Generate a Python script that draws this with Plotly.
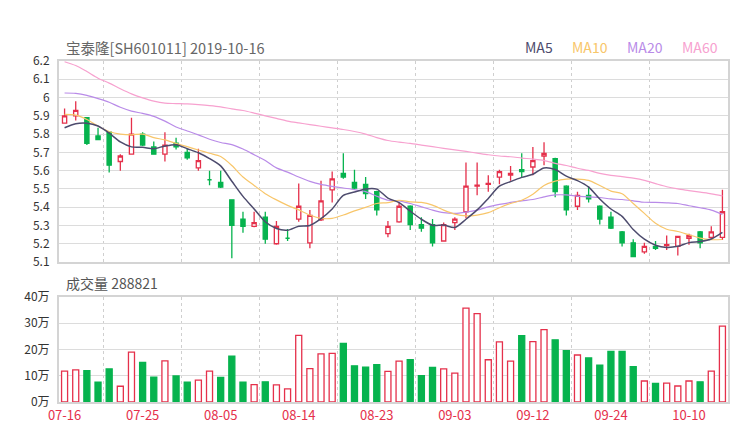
import plotly.graph_objects as go

# ---------------- data ----------------
title_text = "宝泰隆[SH601011] 2019-10-16"

dates = ["07-16", "07-17", "07-18", "07-19", "07-22", "07-23", "07-24", "07-25", "07-26", "07-29", "07-30", "07-31",
         "08-01", "08-02", "08-05", "08-06", "08-07", "08-08", "08-09", "08-12", "08-13", "08-14", "08-15", "08-16",
         "08-19", "08-20", "08-21", "08-22", "08-23", "08-26", "08-27", "08-28", "08-29", "08-30",
         "09-02", "09-03", "09-04", "09-05", "09-06", "09-09", "09-10", "09-11", "09-12", "09-16", "09-17", "09-18",
         "09-19", "09-20", "09-23", "09-24", "09-25", "09-26", "09-27", "09-30",
         "10-08", "10-09", "10-10", "10-11", "10-14", "10-16"]

open_ = [5.86, 5.90, 5.89, 5.79, 5.81, 5.65, 5.69, 5.80, 5.73, 5.69,
         5.75, 5.70, 5.615, 5.55, 5.535, 5.44, 5.335, 5.295, 5.345, 5.20,
         5.23, 5.335, 5.205, 5.33, 5.495, 5.585, 5.535, 5.525, 5.485, 5.255,
         5.32, 5.405, 5.305, 5.305, 5.215, 5.315, 5.375, 5.515, 5.525, 5.565,
         5.575, 5.605, 5.62, 5.68, 5.665, 5.515, 5.405, 5.465, 5.405, 5.345,
         5.265, 5.205, 5.155, 5.185, 5.19, 5.185, 5.23, 5.265, 5.235, 5.235]
close = [5.90, 5.93, 5.75, 5.77, 5.63, 5.68, 5.80, 5.74, 5.69, 5.74,
         5.73, 5.67, 5.655, 5.55, 5.51, 5.30, 5.295, 5.315, 5.225, 5.295,
         5.23, 5.405, 5.355, 5.435, 5.555, 5.565, 5.505, 5.475, 5.385, 5.295,
         5.405, 5.305, 5.285, 5.205, 5.305, 5.335, 5.515, 5.52, 5.53, 5.595,
         5.585, 5.595, 5.655, 5.695, 5.485, 5.385, 5.465, 5.445, 5.335, 5.285,
         5.205, 5.13, 5.185, 5.175, 5.195, 5.24, 5.245, 5.205, 5.265, 5.375]
high = [5.94, 5.98, 5.89, 5.835, 5.81, 5.69, 5.89, 5.81, 5.76, 5.81,
        5.78, 5.72, 5.72, 5.60, 5.60, 5.44, 5.375, 5.375, 5.375, 5.325,
        5.28, 5.53, 5.385, 5.545, 5.595, 5.695, 5.605, 5.565, 5.49, 5.325,
        5.425, 5.41, 5.345, 5.335, 5.316, 5.345, 5.645, 5.645, 5.575, 5.605,
        5.625, 5.695, 5.73, 5.755, 5.67, 5.52, 5.485, 5.515, 5.41, 5.375,
        5.27, 5.225, 5.205, 5.215, 5.245, 5.24, 5.255, 5.27, 5.295, 5.495]
low = [5.857, 5.875, 5.74, 5.767, 5.59, 5.60, 5.69, 5.735, 5.69, 5.65,
       5.715, 5.66, 5.60, 5.52, 5.505, 5.12, 5.26, 5.29, 5.20, 5.195,
       5.215, 5.32, 5.175, 5.325, 5.425, 5.555, 5.50, 5.445, 5.355, 5.235,
       5.315, 5.275, 5.265, 5.185, 5.215, 5.275, 5.34, 5.465, 5.485, 5.525,
       5.545, 5.565, 5.575, 5.63, 5.455, 5.355, 5.385, 5.425, 5.305, 5.28,
       5.185, 5.13, 5.145, 5.165, 5.165, 5.135, 5.195, 5.175, 5.225, 5.22]

volume = [118000, 122000, 119000, 76000, 126000, 60000, 190000, 151000, 95000, 157000,
          99000, 76000, 83000, 118000, 94000, 175000, 76000, 66000, 77000, 65000,
          50000, 254000, 127000, 183000, 185000, 223000, 138000, 133000, 142000, 117000,
          156000, 161000, 100000, 132000, 126000, 110000, 358000, 337000, 161000, 229000,
          156000, 253000, 230000, 276000, 237000, 196000, 179000, 168000, 140000, 193000,
          193000, 135000, 80000, 71000, 72000, 61000, 80000, 77000, 118000, 288821]

ma5 = [5.835, 5.857, 5.86, 5.844, 5.805, 5.757, 5.73, 5.728, 5.72, 5.735,
       5.742, 5.72, 5.698, 5.666, 5.626, 5.542, 5.459, 5.39, 5.32, 5.283,
       5.274, 5.296, 5.30, 5.337, 5.39, 5.464, 5.483, 5.50, 5.499, 5.45,
       5.425, 5.378, 5.334, 5.301, 5.302, 5.289, 5.334, 5.385, 5.448, 5.515,
       5.54, 5.563, 5.58, 5.615, 5.606, 5.57, 5.545, 5.51, 5.445, 5.39,
       5.35, 5.278, 5.225, 5.192, 5.18, 5.186, 5.206, 5.212, 5.226, 5.262]
ma10 = [5.908, 5.904, 5.88, 5.844, 5.814, 5.80, 5.796, 5.80, 5.781, 5.768,
        5.749, 5.731, 5.713, 5.695, 5.677, 5.628, 5.565, 5.519, 5.474, 5.44,
        5.41, 5.385, 5.357, 5.339, 5.339, 5.357, 5.38, 5.399, 5.42, 5.425,
        5.438, 5.429, 5.426, 5.411, 5.384, 5.362, 5.352, 5.357, 5.37, 5.397,
        5.42, 5.438, 5.471, 5.519, 5.543, 5.554, 5.554, 5.547, 5.519, 5.488,
        5.474, 5.42, 5.366, 5.312, 5.279, 5.267, 5.249, 5.231, 5.222, 5.223]
ma20 = [6.025, 6.023, 6.012, 5.994, 5.974, 5.947, 5.926, 5.913, 5.897, 5.871,
        5.839, 5.817, 5.796, 5.772, 5.754, 5.742, 5.718, 5.687, 5.655, 5.615,
        5.592, 5.565, 5.541, 5.525, 5.514, 5.505, 5.496, 5.485, 5.46, 5.438,
        5.435, 5.42, 5.402, 5.384, 5.37, 5.366, 5.373, 5.384, 5.402, 5.415,
        5.426, 5.435, 5.442, 5.456, 5.467, 5.467, 5.46, 5.456, 5.453, 5.445,
        5.442, 5.435, 5.427, 5.426, 5.424, 5.42, 5.408, 5.397, 5.384, 5.36]
ma60 = [6.196, 6.175, 6.142, 6.106, 6.079, 6.048, 6.02, 5.998, 5.98, 5.969,
        5.967, 5.965, 5.961, 5.956, 5.949, 5.938, 5.929, 5.915, 5.90, 5.886,
        5.871, 5.861, 5.852, 5.843, 5.834, 5.825, 5.814, 5.80, 5.781, 5.765,
        5.756, 5.749, 5.74, 5.731, 5.722, 5.714, 5.705, 5.696, 5.687, 5.68,
        5.676, 5.669, 5.663, 5.655, 5.64, 5.628, 5.613, 5.601, 5.585, 5.574,
        5.567, 5.559, 5.547, 5.529, 5.512, 5.50, 5.491, 5.482, 5.473, 5.462]

price_ticks = [5.1, 5.2, 5.3, 5.4, 5.5, 5.6, 5.7, 5.8, 5.9, 6.0, 6.1, 6.2]
price_tick_text = ["5.1", "5.2", "5.3", "5.4", "5.5", "5.6", "5.7", "5.8", "5.9", "6", "6.1", "6.2"]
vol_ticks = [0, 100000, 200000, 300000, 400000]
vol_tick_text = ["0万", "10万", "20万", "30万", "40万"]
label_step = 7

# ---------------- style ----------------
RED = "#e5304b"
GREEN = "#06b34e"
MA_COLORS = {"MA5": "#4d4b6d", "MA10": "#f8c66a", "MA20": "#b98be8", "MA60": "#f7a1cf"}
FONT = "Noto Sans CJK SC"
GRID = "#dcdcdc"
FRAME = "#d4d4d4"

x = list(range(len(dates)))
label_idx = list(range(0, len(dates), label_step))
vgrid = [i + label_step / 2 for i in label_idx if i + label_step / 2 < len(dates) - 0.5]

fig = go.Figure()

fig.add_trace(go.Candlestick(
    x=x, open=open_, high=high, low=low, close=close,
    xaxis="x", yaxis="y",
    increasing=dict(line=dict(color=RED, width=1.3), fillcolor="white"),
    decreasing=dict(line=dict(color=GREEN, width=1.3), fillcolor=GREEN),
    whiskerwidth=0, showlegend=False, hoverinfo="skip"))

for name, vals, w in [("MA60", ma60, 1.2), ("MA20", ma20, 1.2), ("MA10", ma10, 1.2), ("MA5", ma5, 1.5)]:
    fig.add_trace(go.Scatter(x=x, y=vals, mode="lines", name=name, xaxis="x", yaxis="y",
                             line=dict(color=MA_COLORS[name], width=w, shape="spline", smoothing=0.8),
                             showlegend=False, hoverinfo="skip"))

up = [c >= o for o, c in zip(open_, close)]
fig.add_trace(go.Bar(
    x=x, y=volume, xaxis="x2", yaxis="y2",
    marker=dict(color=["white" if u else GREEN for u in up],
                line=dict(color=[RED if u else GREEN for u in up], width=1.3)),
    showlegend=False, hoverinfo="skip"))

W, H = 740, 440
ml, mr, mt, mb = 59, 10, 61, 38
ph = H - mt - mb
pw = W - ml - mr

def py(p):  # pixel y -> paper
    return (H - mb - p) / ph

def px(p):
    return (p - ml) / pw

common_x = dict(range=[-0.5, len(dates) - 0.5], showline=True, mirror=True, linecolor=FRAME, linewidth=2,
                zeroline=False, showgrid=False, fixedrange=True,
                minor=dict(tickmode="array", tickvals=vgrid, showgrid=True, gridcolor="#cfcfcf",
                           griddash="3px,3px", gridwidth=1, ticks=""))

fig.update_layout(
    width=W, height=H, margin=dict(l=ml, r=mr, t=mt, b=mb),
    paper_bgcolor="white", plot_bgcolor="white",
    font=dict(family=FONT, size=12, color="#333"),
    boxgap=0.46, bargap=0.46,
    xaxis=dict(domain=[0, 1], anchor="y", showticklabels=False, rangeslider=dict(visible=False), **common_x),
    xaxis2=dict(domain=[0, 1], anchor="y2", tickmode="array", tickvals=label_idx,
                ticktext=[dates[i] for i in label_idx], tickfont=dict(color=RED, size=13, family=FONT),
                ticks="", **common_x),
    yaxis=dict(domain=[py(262), 1], range=[price_ticks[0], price_ticks[-1]], tickmode="array",
               tickvals=price_ticks, ticktext=price_tick_text, showgrid=True, gridcolor=GRID, gridwidth=1,
               showline=True, mirror=True, linecolor=FRAME, linewidth=2, zeroline=False,
               tickfont=dict(size=12, color="#333"), ticklabelstandoff=5, fixedrange=True),
    yaxis2=dict(domain=[0, py(297)], range=[vol_ticks[0], vol_ticks[-1]], tickmode="array",
                tickvals=vol_ticks, ticktext=vol_tick_text, showgrid=True, gridcolor=GRID, gridwidth=1,
                showline=True, mirror=True, linecolor=FRAME, linewidth=2, zeroline=False,
                tickfont=dict(size=12, color="#333"), ticklabelstandoff=5, fixedrange=True),
)

ann = [
    dict(text=title_text, x=px(64.5), y=py(47), xanchor="left", yanchor="middle",
         font=dict(size=14.5, color="#666", family=FONT)),
    dict(text="成交量 " + str(volume[-1]), x=px(64.5), y=py(283), xanchor="left", yanchor="middle",
         font=dict(size=14, color="#555", family=FONT)),
]
for name, cx in [("MA5", 540), ("MA10", 592), ("MA20", 647), ("MA60", 702)]:
    ann.append(dict(text=name, x=px(cx), y=py(47), xanchor="center", yanchor="middle",
                    font=dict(size=14, color=MA_COLORS[name], family=FONT)))
for a in ann:
    a.update(xref="paper", yref="paper", showarrow=False)
fig.update_layout(annotations=ann)

fig.write_html("out.html")
